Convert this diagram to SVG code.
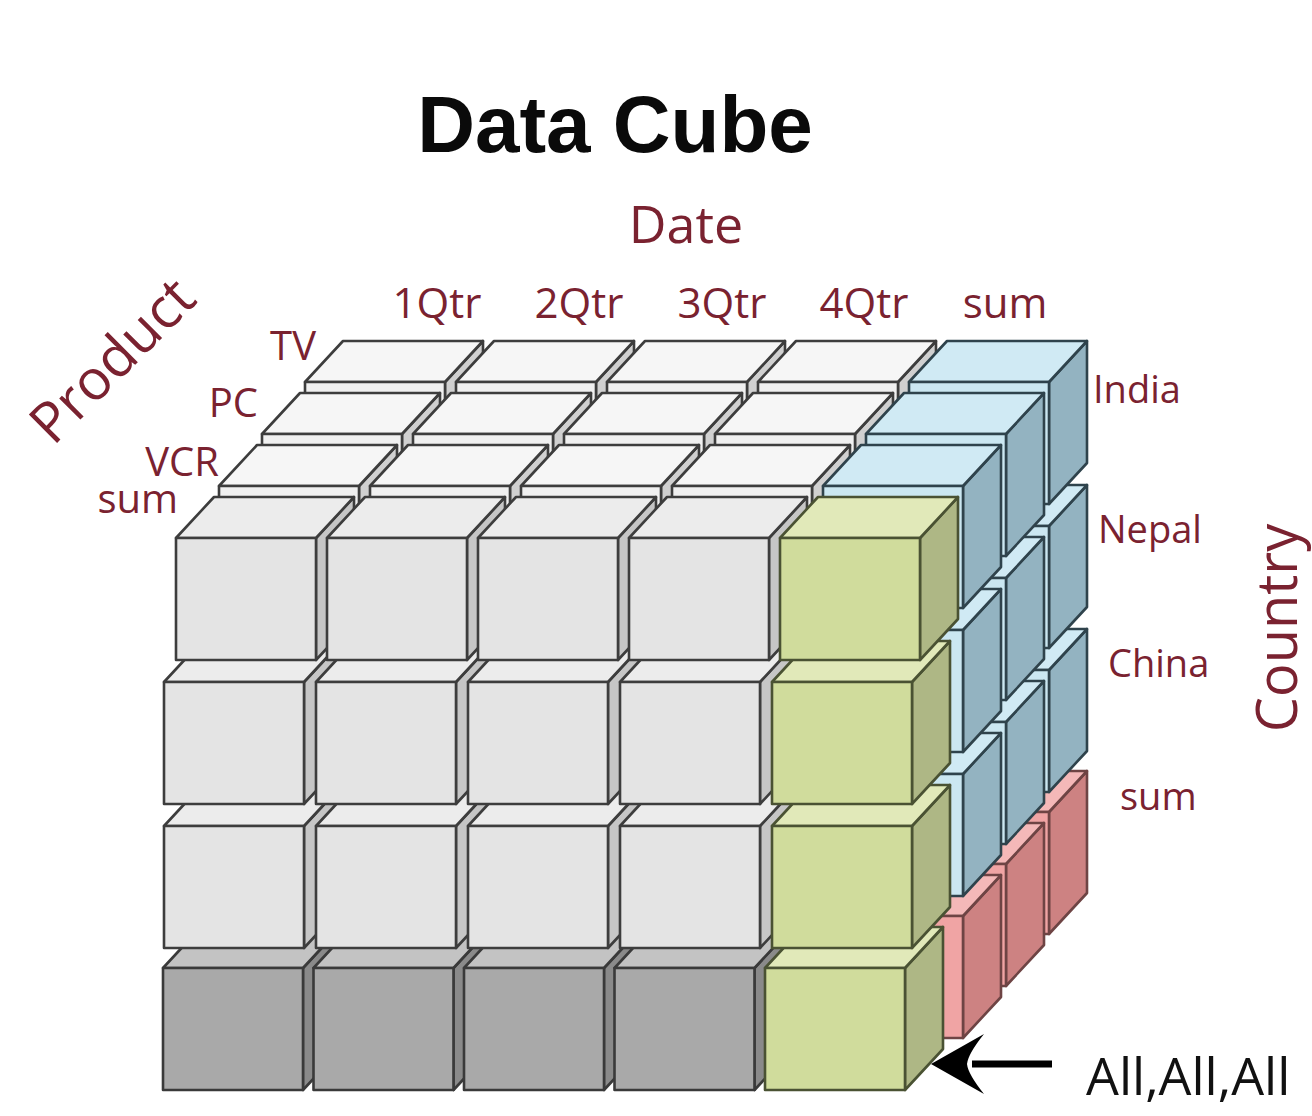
<svg xmlns="http://www.w3.org/2000/svg" width="1312" height="1116" viewBox="0 0 1312 1116">
<style>
.lbl{font-family:"Open Sans","Noto Sans","Liberation Sans",sans-serif;fill:#7a2230}
.title{font-family:"Liberation Sans",Arial,sans-serif;font-weight:bold;font-size:80px;fill:#0a0a0a}
.q{font-size:42px;text-anchor:middle}
.p{font-size:40px;text-anchor:end}
.c{font-size:38px}
.all{font-family:"Open Sans","Noto Sans","Liberation Sans",sans-serif;font-size:52px;fill:#111}
</style>
<defs>
<g id="G" stroke="#3d3d3d" stroke-width="2.6" stroke-linejoin="round">
<polygon points="140,0 178,-41 178,81 140,122" fill="#c6c6c6"/>
<polygon points="0,0 38,-41 178,-41 140,0" fill="#ececec"/>
<rect width="140" height="122" fill="#e4e4e4"/>
</g>
<g id="B" stroke="#3d3d3d" stroke-width="2.6" stroke-linejoin="round">
<polygon points="140,0 178,-41 178,81 140,122" fill="#d0d0d0"/>
<polygon points="0,0 38,-41 178,-41 140,0" fill="#f6f6f6"/>
<rect width="140" height="122" fill="#f0f0f0"/>
</g>
<g id="D" stroke="#3a3a3a" stroke-width="2.6" stroke-linejoin="round">
<polygon points="140,0 178,-41 178,81 140,122" fill="#8a8a8a"/>
<polygon points="0,0 38,-41 178,-41 140,0" fill="#c3c3c3"/>
<rect width="140" height="122" fill="#a9a9a9"/>
</g>
<g id="N" stroke="#4a5233" stroke-width="2.6" stroke-linejoin="round">
<polygon points="140,0 178,-41 178,81 140,122" fill="#aeb785"/>
<polygon points="0,0 38,-41 178,-41 140,0" fill="#e1e9b9"/>
<rect width="140" height="122" fill="#d0dc9c"/>
</g>
<g id="L" stroke="#2f434c" stroke-width="2.6" stroke-linejoin="round">
<polygon points="140,0 178,-41 178,81 140,122" fill="#93b3c1"/>
<polygon points="0,0 38,-41 178,-41 140,0" fill="#d0eaf4"/>
<rect width="140" height="122" fill="#cbe7f1"/>
</g>
<g id="R" stroke="#6e4444" stroke-width="2.6" stroke-linejoin="round">
<polygon points="140,0 178,-41 178,81 140,122" fill="#cd8282"/>
<polygon points="0,0 38,-41 178,-41 140,0" fill="#f4b8b8"/>
<rect width="140" height="122" fill="#f0a4a4"/>
</g>
</defs>
<rect width="1312" height="1116" fill="#ffffff"/>

<g id="cube">
<g id="layer-TV">
<use href="#D" x="305" y="812"/><use href="#D" x="456" y="812"/><use href="#D" x="607" y="812"/><use href="#D" x="758" y="812"/><use href="#R" x="909" y="812"/>
<use href="#B" x="305" y="670"/><use href="#B" x="456" y="670"/><use href="#B" x="607" y="670"/><use href="#B" x="758" y="670"/><use href="#L" x="909" y="670"/>
<use href="#B" x="305" y="526"/><use href="#B" x="456" y="526"/><use href="#B" x="607" y="526"/><use href="#B" x="758" y="526"/><use href="#L" x="909" y="526"/>
<use href="#B" x="305" y="382"/><use href="#B" x="456" y="382"/><use href="#B" x="607" y="382"/><use href="#B" x="758" y="382"/><use href="#L" x="909" y="382"/>
</g>
<g id="layer-PC">
<use href="#D" x="262" y="864"/><use href="#D" x="413" y="864"/><use href="#D" x="564" y="864"/><use href="#D" x="715" y="864"/><use href="#R" x="866" y="864"/>
<use href="#B" x="262" y="722"/><use href="#B" x="413" y="722"/><use href="#B" x="564" y="722"/><use href="#B" x="715" y="722"/><use href="#L" x="866" y="722"/>
<use href="#B" x="262" y="578"/><use href="#B" x="413" y="578"/><use href="#B" x="564" y="578"/><use href="#B" x="715" y="578"/><use href="#L" x="866" y="578"/>
<use href="#B" x="262" y="434"/><use href="#B" x="413" y="434"/><use href="#B" x="564" y="434"/><use href="#B" x="715" y="434"/><use href="#L" x="866" y="434"/>
</g>
<g id="layer-VCR">
<use href="#D" x="219" y="916"/><use href="#D" x="370" y="916"/><use href="#D" x="521" y="916"/><use href="#D" x="672" y="916"/><use href="#R" x="823" y="916"/>
<use href="#B" x="219" y="774"/><use href="#B" x="370" y="774"/><use href="#B" x="521" y="774"/><use href="#B" x="672" y="774"/><use href="#L" x="823" y="774"/>
<use href="#B" x="219" y="630"/><use href="#B" x="370" y="630"/><use href="#B" x="521" y="630"/><use href="#B" x="672" y="630"/><use href="#L" x="823" y="630"/>
<use href="#B" x="219" y="486"/><use href="#B" x="370" y="486"/><use href="#B" x="521" y="486"/><use href="#B" x="672" y="486"/><use href="#L" x="823" y="486"/>
</g>
<g id="layer-sum">
<use href="#D" x="163" y="968"/><use href="#D" x="313.5" y="968"/><use href="#D" x="464" y="968"/><use href="#D" x="614.5" y="968"/><use href="#N" x="765" y="968"/>
<use href="#G" x="164" y="826"/><use href="#G" x="316" y="826"/><use href="#G" x="468" y="826"/><use href="#G" x="620" y="826"/><use href="#N" x="772" y="826"/>
<use href="#G" x="164" y="682"/><use href="#G" x="316" y="682"/><use href="#G" x="468" y="682"/><use href="#G" x="620" y="682"/><use href="#N" x="772" y="682"/>
<use href="#G" x="176" y="538"/><use href="#G" x="327" y="538"/><use href="#G" x="478" y="538"/><use href="#G" x="629" y="538"/><use href="#N" x="780" y="538"/>
</g>
</g>

<g id="title"><text class="title" x="615" y="152" text-anchor="middle">Data Cube</text></g>

<g id="date-axis" class="lbl">
<text x="686" y="243" font-size="52" text-anchor="middle">Date</text>
<text class="q" x="437" y="318">1Qtr</text>
<text class="q" x="579" y="318">2Qtr</text>
<text class="q" x="722" y="318">3Qtr</text>
<text class="q" x="864" y="318">4Qtr</text>
<text class="q" x="1005" y="318">sum</text>
</g>

<g id="product-axis" class="lbl">
<text font-size="56" text-anchor="middle" transform="translate(126,374) rotate(-45)">Product</text>
<text class="p" x="316" y="360">TV</text>
<text class="p" x="258" y="417">PC</text>
<text class="p" x="219" y="476">VCR</text>
<text class="p" x="178" y="513">sum</text>
</g>

<g id="country-axis" class="lbl">
<text class="c" x="1093" y="403">India</text>
<text class="c" x="1098" y="543">Nepal</text>
<text class="c" x="1108" y="677">China</text>
<text class="c" x="1120" y="810">sum</text>
<text font-size="56" text-anchor="middle" transform="translate(1297,628) rotate(-90)">Country</text>
</g>

<g id="connectors">
<line x1="972" y1="1064" x2="1052" y2="1064" stroke="#000" stroke-width="7"/>
<path d="M931,1064 L984,1034 Q968,1054 967,1064 Q968,1074 984,1094 Z" fill="#000"/>
</g>
<g id="all-label"><text class="all" x="1086" y="1095">All,All,All</text></g>
</svg>
